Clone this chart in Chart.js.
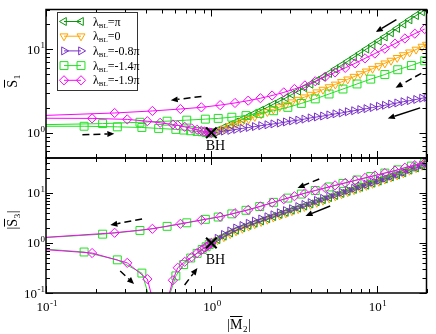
<!DOCTYPE html>
<html>
<head>
<meta charset="utf-8">
<script src="https://cdn.jsdelivr.net/npm/chart.js@4.4.1/dist/chart.umd.min.js"></script>
<style>
html, body { margin: 0; padding: 0; background: #fff; }
#wrap { position: relative; width: 436px; height: 334px; }
#wrap canvas { position: absolute; left: 0; top: 0; }
</style>
</head>
<body>
<div id="wrap">
  <canvas id="topChart" width="436" height="334"></canvas>
  <canvas id="bottomChart" width="436" height="334"></canvas>
</div>
<script>
// axis ranges
var xMin = 0.1, xMax = 20;
var yTopMin = 0.5, yTopMax = 30;
var yBotMin = 0.1, yBotMax = 50;

// |M2| grid shared by the three curves lambda = pi, 0, -0.8pi
var xDense = [1.00,1.09,1.19,1.30,1.41,1.54,1.68,1.83,2.00,2.18,2.37,2.59,2.82,3.07,3.35,3.65,3.98,4.34,
              4.73,5.16,5.62,6.13,6.68,7.29,7.94,8.66,9.44,10.3,11.2,12.2,13.3,14.5,15.8,17.3,18.8,20.0];

// S1 (top panel)
var s1Pi   = [1.00,1.07,1.16,1.25,1.35,1.45,1.58,1.71,1.86,2.02,2.20,2.40,2.63,2.88,3.16,3.47,3.82,4.21,
              4.65,5.14,5.80,6.45,7.20,8.05,9.00,10.1,11.3,12.6,14.1,15.8,17.8,20.1,22.6,25.4,28.2,30.2];
var s1Zero = [1.00,1.06,1.13,1.21,1.29,1.37,1.46,1.56,1.67,1.78,1.91,2.04,2.18,2.33,2.50,2.67,2.87,3.07,
              3.30,3.54,3.80,4.08,4.38,4.71,5.07,5.45,5.87,6.32,6.81,7.34,7.92,8.55,9.22,9.96,10.8,11.4];
var s1M08  = [1.00,1.02,1.05,1.07,1.10,1.13,1.16,1.19,1.22,1.25,1.28,1.31,1.35,1.39,1.42,1.46,1.51,1.55,
              1.59,1.64,1.69,1.73,1.79,1.84,1.90,1.95,2.01,2.08,2.14,2.21,2.28,2.36,2.43,2.51,2.60,2.66];

// |S3| (bottom panel)
var s3Pi   = [1.00,1.17,1.37,1.59,1.80,2.02,2.25,2.49,2.76,3.06,3.38,3.73,4.10,4.52,4.98,5.49,6.04,6.67,
              7.35,8.09,8.92,9.80,10.8,11.8,13.0,14.3,15.7,17.3,19.0,20.9,23.0,25.3,28.6,31.7,35.2,39.2];
var s3Zero = [1.00,1.14,1.31,1.51,1.72,1.93,2.14,2.38,2.64,2.93,3.24,3.57,3.94,4.34,4.78,5.27,5.80,6.40,
              7.05,7.77,8.56,9.45,10.4,11.4,12.6,13.9,15.3,16.8,18.6,20.4,22.5,24.8,28.0,31.4,35.2,39.0];
var s3M08  = [1.00,1.24,1.48,1.74,1.99,2.23,2.47,2.74,3.02,3.34,3.66,4.03,4.44,4.84,5.34,5.88,6.41,7.08,
              7.80,8.59,9.37,10.3,11.3,12.4,13.7,14.9,16.4,18.0,19.8,21.7,23.7,26.1,29.5,32.7,36.3,40.0];

// lambda = -1.4pi : upper branch (from large |M2| going left), then lower branch back to BH
var xM14  = [19.5,16.2,13.4,11.2,9.2,7.6,6.25,5.15,4.25,3.5,2.9,2.38,1.96,1.62,1.33,1.1,0.92,0.71,0.54,0.37,0.22,0.07,
             0.07,0.17,0.27,0.38,0.48,0.61,0.68,0.75,0.82,0.88,0.93,0.97,1.0];
var s1M14 = [7.3,6.4,5.7,5.0,4.4,3.85,3.35,2.92,2.55,2.25,2.02,1.84,1.71,1.61,1.54,1.49,1.46,1.42,1.38,1.34,1.29,1.24,
             1.2,1.2,1.18,1.16,1.13,1.10,1.08,1.06,1.04,1.03,1.01,1.005,1.0];
var s3M14 = [40,34.5,29,25,21.3,18.2,15.5,13.2,11.2,9.5,7.9,6.5,5.35,4.5,3.82,3.3,2.97,2.53,2.15,1.78,1.5,1.2,
             0.82,0.66,0.46,0.25,0.02,0.22,0.37,0.5,0.62,0.74,0.84,0.93,1.0];

// lambda = -1.9pi
var xM19  = [19.5,17.0,14.8,12.9,11.2,9.75,8.5,7.4,6.45,5.6,4.88,4.25,3.68,3.18,2.74,2.33,1.98,1.67,1.39,1.13,0.87,0.65,0.44,0.26,0.07,
             0.07,0.19,0.31,0.41,0.49,0.585,0.626,0.69,0.76,0.82,0.87,0.91,0.95,0.98,1.0];
var s1M19 = [17.5,15.4,13.5,11.7,10.2,8.9,7.8,6.8,6.0,5.3,4.7,4.15,3.7,3.35,3.05,2.8,2.6,2.43,2.28,2.15,2.02,1.93,1.83,1.73,1.58,
             1.5,1.49,1.45,1.38,1.32,1.26,1.23,1.18,1.13,1.09,1.06,1.04,1.02,1.01,1.0];
var s3M19 = [40,36,32,28,25,22.3,20,17.8,15.9,14.2,12.6,11.2,9.9,8.6,7.5,6.4,5.4,4.6,3.95,3.35,2.88,2.42,1.92,1.6,1.2,
             0.8,0.63,0.40,0.19,0.02,0.18,0.32,0.42,0.52,0.63,0.72,0.8,0.88,0.95,1.0];

var legendLabels = ['\u03c0', '0', '-0.8\u03c0', '-1.4\u03c0', '-1.9\u03c0'];
var bhPoint = [1, 1];

// arrows drawn in data coordinates (from -> to)
var topArrows = [
  [0.871, 2.73, 0.568, 2.46, true],
  [0.166, 0.948, 0.259, 0.974, true],
  [13.15, 22.7, 9.87, 16.1, false],
  [18.6, 5.16, 13.0, 3.47, true],
  [18.3, 1.99, 11.66, 1.49, false]
];
var bottomArrows = [
  [0.381, 3.02, 0.245, 2.29, true],
  [0.281, 0.275, 0.341, 0.151, true],
  [0.689, 0.145, 0.824, 0.316, true],
  [4.49, 19.05, 3.32, 12.6, true],
  [5.23, 5.5, 3.71, 3.47, false]
];

var FONT = '"Liberation Serif", "DejaVu Serif", serif';

var styles = [
  { color: '#0a960a', shape: 'triangle', rot: 270, r: 4.6 },   // pi
  { color: '#ffa500', shape: 'triangle', rot: 180, r: 4.6 },   // 0
  { color: '#7a30c8', shape: 'triangle', rot: 90,  r: 4.6 },   // -0.8pi
  { color: '#22e022', shape: 'rect',     rot: 0,   r: 5.6 },   // -1.4pi
  { color: '#ff00ff', shape: 'rectRot',  rot: 0,   r: 4.6 }    // -1.9pi
];

function makeSet(xs, ys, st) {
  return {
    data: xs.map(function(x, i) { return { x: x, y: ys[i] }; }),
    showLine: true,
    borderColor: st.color,
    borderWidth: 1,
    backgroundColor: 'rgba(0,0,0,0)',
    pointStyle: st.shape,
    pointRotation: st.rot,
    pointRadius: st.r,
    pointHoverRadius: st.r,
    pointBorderWidth: 1,
    pointBorderColor: st.color,
    pointBackgroundColor: 'rgba(0,0,0,0)',
    tension: 0,
    fill: false
  };
}

function bhSet() {
  return {
    data: [{ x: bhPoint[0], y: bhPoint[1] }],
    showLine: false,
    pointStyle: 'crossRot',
    pointRadius: 7.5,
    pointHoverRadius: 7.5,
    pointBorderWidth: 2,
    pointBorderColor: '#000',
    backgroundColor: '#000'
  };
}

function logTicks(min, max) {
  var out = [];
  for (var e = Math.floor(Math.log10(min)); e <= Math.ceil(Math.log10(max)); e++) {
    for (var m = 1; m <= 9; m++) {
      var v = m * Math.pow(10, e);
      if (v >= min * 0.999 && v <= max * 1.001) out.push({ v: v, major: m === 1, e: e });
    }
  }
  return out;
}

// "10" with a superscript exponent; align = 'center' or 'right'
function drawPow(ctx, e, x, baseY, align) {
  var sup = String(e);
  ctx.font = '13px ' + FONT;
  var wb = ctx.measureText('10').width;
  ctx.font = '9px ' + FONT;
  var ws = ctx.measureText(sup).width;
  var total = wb + ws + 0.5;
  var x0 = align === 'center' ? x - total / 2 : x - total;
  ctx.fillStyle = '#000';
  ctx.textAlign = 'left';
  ctx.textBaseline = 'alphabetic';
  ctx.font = '13px ' + FONT;
  ctx.fillText('10', x0, baseY);
  ctx.font = '9px ' + FONT;
  ctx.fillText(sup, x0 + wb + 0.5, baseY - 5.5);
}

function drawArrow(ctx, p0, p1, dashed) {
  var dx = p1[0] - p0[0], dy = p1[1] - p0[1];
  var len = Math.sqrt(dx * dx + dy * dy);
  var ux = dx / len, uy = dy / len;
  var hl = 7, hw = 3;
  ctx.save();
  ctx.strokeStyle = '#000';
  ctx.fillStyle = '#000';
  ctx.lineWidth = 1.5;
  ctx.setLineDash(dashed ? [7, 4] : []);
  ctx.beginPath();
  ctx.moveTo(p0[0], p0[1]);
  ctx.lineTo(p1[0] - ux * hl, p1[1] - uy * hl);
  ctx.stroke();
  ctx.setLineDash([]);
  ctx.beginPath();
  ctx.moveTo(p1[0], p1[1]);
  ctx.lineTo(p1[0] - ux * hl - uy * hw, p1[1] - uy * hl + ux * hw);
  ctx.lineTo(p1[0] - ux * hl + uy * hw, p1[1] - uy * hl - ux * hw);
  ctx.closePath();
  ctx.fill();
  ctx.restore();
}

// title like "|S̄3|" : pre, overlined letter, subscript, post
function drawTitle(ctx, pre, letter, sub, post) {
  ctx.fillStyle = '#000';
  ctx.strokeStyle = '#000';
  ctx.textBaseline = 'alphabetic';
  ctx.textAlign = 'left';
  ctx.font = '14px ' + FONT;
  var wPre = ctx.measureText(pre).width;
  var wL = ctx.measureText(letter).width;
  var wPost = ctx.measureText(post).width;
  ctx.font = '9px ' + FONT;
  var wSub = ctx.measureText(sub).width;
  var total = wPre + wL + wSub + wPost + 1;
  var x = -total / 2;
  ctx.font = '14px ' + FONT;
  ctx.fillText(pre, x, 0);
  x += wPre;
  ctx.fillText(letter, x, 0);
  ctx.lineWidth = 1;
  ctx.beginPath();
  ctx.moveTo(x, -12.5);
  ctx.lineTo(x + wL, -12.5);
  ctx.stroke();
  x += wL + 0.5;
  ctx.font = '9px ' + FONT;
  ctx.fillText(sub, x, 3);
  x += wSub + 0.5;
  ctx.font = '14px ' + FONT;
  ctx.fillText(post, x, 0);
}

function drawMarker(ctx, st, x, y) {
  if (Chart.helpers && Chart.helpers.drawPoint) {
    ctx.save();
    ctx.strokeStyle = st.color;
    ctx.fillStyle = 'rgba(0,0,0,0)';
    ctx.lineWidth = 1;
    Chart.helpers.drawPoint(ctx, { pointStyle: st.shape, rotation: st.rot, radius: st.r, borderWidth: 1 }, x, y);
    ctx.restore();
  }
}

function framePlugin(panel) {
  return {
    id: 'frame' + panel.name,
    afterDraw: function(chart) {
      var ctx = chart.ctx, a = chart.chartArea;
      var xs = chart.scales.x, ys = chart.scales.y;
      ctx.save();
      // frame
      ctx.strokeStyle = '#000';
      ctx.lineWidth = 1.5;
      ctx.strokeRect(a.left, a.top, a.right - a.left, a.bottom - a.top);
      // inward ticks on all four sides
      ctx.lineWidth = 1;
      ctx.beginPath();
      logTicks(xMin, xMax).forEach(function(t) {
        var px = Math.round(xs.getPixelForValue(t.v)) + 0.5;
        var l = t.major ? 7 : 4;
        ctx.moveTo(px, a.bottom); ctx.lineTo(px, a.bottom - l);
        ctx.moveTo(px, a.top); ctx.lineTo(px, a.top + l);
      });
      logTicks(panel.yMin, panel.yMax).forEach(function(t) {
        var py = Math.round(ys.getPixelForValue(t.v)) + 0.5;
        var l = t.major ? 7 : 4;
        ctx.moveTo(a.left, py); ctx.lineTo(a.left + l, py);
        ctx.moveTo(a.right, py); ctx.lineTo(a.right - l, py);
      });
      ctx.stroke();
      // tick labels
      logTicks(panel.yMin, panel.yMax).forEach(function(t) {
        if (t.major) drawPow(ctx, t.e, a.left - 1, ys.getPixelForValue(t.v) + 4.5, 'right');
      });
      if (panel.xLabels) {
        logTicks(xMin, xMax).forEach(function(t) {
          if (t.major) drawPow(ctx, t.e, xs.getPixelForValue(t.v) + 1, a.bottom + 18, 'center');
        });
        ctx.save();
        ctx.translate(239, a.bottom + 36);
        drawTitle(ctx, '|', 'M', '2', '|');
        ctx.restore();
      }
      // y title (rotated)
      ctx.save();
      ctx.translate(17, panel.titleY);
      ctx.rotate(-Math.PI / 2);
      drawTitle(ctx, panel.titlePre, 'S', panel.titleSub, panel.titlePost);
      ctx.restore();
      // arrows
      panel.arrows.forEach(function(ar) {
        drawArrow(ctx, [xs.getPixelForValue(ar[0]), ys.getPixelForValue(ar[1])],
                       [xs.getPixelForValue(ar[2]), ys.getPixelForValue(ar[3])], ar[4]);
      });
      // BH label
      ctx.fillStyle = '#000';
      ctx.font = '14px ' + FONT;
      ctx.textAlign = 'center';
      ctx.textBaseline = 'alphabetic';
      ctx.fillText('BH', xs.getPixelForValue(bhPoint[0]) + 4, ys.getPixelForValue(bhPoint[1]) + panel.bhDy);
      // legend
      if (panel.legend) {
        ctx.fillStyle = '#fff';
        ctx.fillRect(57, 12, 80, 78);
        ctx.strokeStyle = '#333';
        ctx.lineWidth = 1;
        ctx.strokeRect(57.5, 12.5, 80, 78);
        legendLabels.forEach(function(lab, i) {
          var st = styles[i];
          var y = 21.5 + i * 14.7;
          ctx.strokeStyle = st.color;
          ctx.lineWidth = 1;
          ctx.beginPath();
          ctx.moveTo(64, y); ctx.lineTo(81, y);
          ctx.stroke();
          drawMarker(ctx, st, 64, y);
          drawMarker(ctx, st, 81, y);
          ctx.fillStyle = '#000';
          ctx.textAlign = 'left';
          ctx.font = '12px ' + FONT;
          var x = 93;
          ctx.fillText('\u03bb', x, y + 4);
          x += ctx.measureText('\u03bb').width;
          ctx.font = '7px ' + FONT;
          ctx.fillText('BL', x, y + 6);
          x += ctx.measureText('BL').width;
          ctx.font = '12px ' + FONT;
          ctx.fillText('=' + lab, x, y + 4);
        });
      }
      ctx.restore();
    }
  };
}

function makeChart(id, sets, panel, pad) {
  return new Chart(document.getElementById(id), {
    type: 'scatter',
    data: { datasets: sets },
    options: {
      responsive: false,
      animation: false,
      events: [],
      layout: { padding: pad },
      plugins: { legend: { display: false }, tooltip: { enabled: false } },
      scales: {
        x: { type: 'logarithmic', min: xMin, max: xMax, display: false },
        y: { type: 'logarithmic', min: panel.yMin, max: panel.yMax, display: false }
      }
    },
    plugins: [framePlugin(panel)]
  });
}

window.addEventListener('load', function() {
  // dataset 0 is drawn on top
  var topSets = [
    bhSet(),
    makeSet(xM19, s1M19, styles[4]),
    makeSet(xM14, s1M14, styles[3]),
    makeSet(xDense, s1M08, styles[2]),
    makeSet(xDense, s1Zero, styles[1]),
    makeSet(xDense, s1Pi, styles[0])
  ];
  var bottomSets = [
    bhSet(),
    makeSet(xM19, s3M19, styles[4]),
    makeSet(xM14, s3M14, styles[3]),
    makeSet(xDense, s3M08, styles[2]),
    makeSet(xDense, s3Pi, styles[0]),
    makeSet(xDense, s3Zero, styles[1])
  ];
  makeChart('topChart', topSets, {
    name: 'Top', yMin: yTopMin, yMax: yTopMax, xLabels: false, legend: true,
    titlePre: '', titleSub: '1', titlePost: '', titleY: 81, arrows: topArrows, bhDy: 17
  }, { left: 46, right: 6, top: 4, bottom: 176 });
  makeChart('bottomChart', bottomSets, {
    name: 'Bottom', yMin: yBotMin, yMax: yBotMax, xLabels: true, legend: false,
    titlePre: '|', titleSub: '3', titlePost: '|', titleY: 220, arrows: bottomArrows, bhDy: 21
  }, { left: 46, right: 6, top: 158, bottom: 41 });
});
</script>
</body>
</html>
